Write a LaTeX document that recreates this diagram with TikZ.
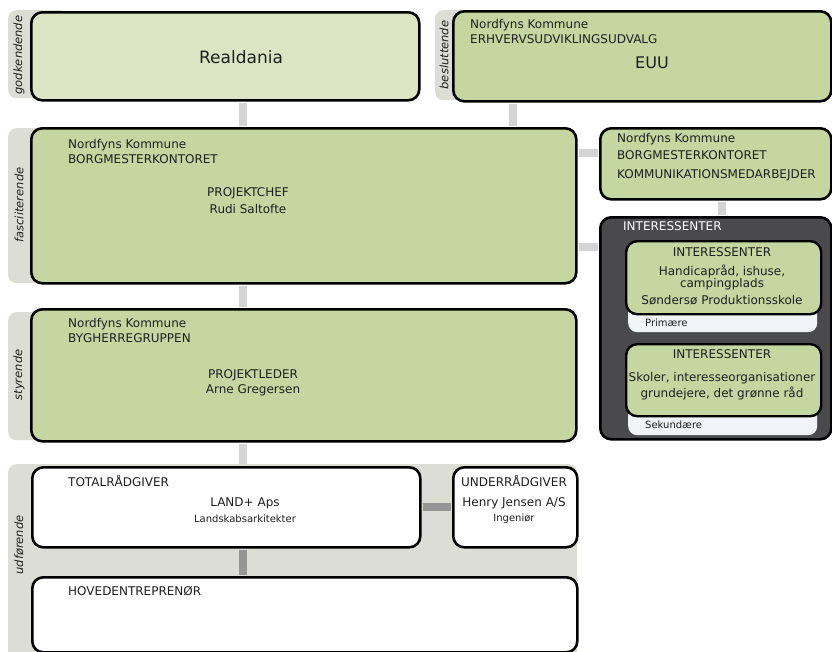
\documentclass[tikz,border=0pt]{standalone}
\usepackage{fontspec}
\setmainfont{DejaVu Sans}
\usetikzlibrary{positioning}
\usetikzlibrary{calc}
\definecolor{palegreen}{RGB}{220,229,195}
\definecolor{leafgreen}{RGB}{197,214,160}
\definecolor{tabgrey}{RGB}{220,222,214}
\definecolor{linkgrey}{RGB}{212,212,212}
\definecolor{darklink}{RGB}{150,150,150}
\definecolor{slate}{RGB}{74,74,76}
\definecolor{paper}{RGB}{240,243,247}

\begin{document}
\begin{tikzpicture}[x=1pt,y=-1pt,inner sep=0pt,
			font=\fontsize{12}{14}\selectfont,text=black!88]
			\tikzstyle{box}=[draw=black,line width=2.6pt,rounded corners=11pt,anchor=north west]
			\tikzstyle{tab}=[fill=tabgrey,rounded corners=8pt,anchor=north west]
			\tikzstyle{side}=[rotate=90,font=\itshape\fontsize{11.5}{13}\selectfont]
			\tikzstyle{txt}=[anchor=west]
			\tikzstyle{small}=[font=\fontsize{10}{12}\selectfont]
			\tikzstyle{link}=[draw=linkgrey,line width=8pt,shorten <=1pt,shorten >=1pt]
			\tikzstyle{inlink}=[link,draw=darklink]
			
			\useasboundingbox (0,0) rectangle (832,651);
			
			\coordinate (spine)    at (243,0);
			\coordinate (euuspine) at (513,0);
			\coordinate (kspine)   at (722,0);
			\coordinate (tapA)     at (0,153);
			\coordinate (tapB)     at (0,247);
			
			% godkendende
			\node[tab,minimum width=60pt,minimum height=88pt]  (tab_g) at (8,10) {};
			\node[side]                                        (lab_g) at (19,55) {godkendende};
			\node[box,fill=palegreen,minimum width=388pt,minimum height=88pt] (real) at (30,11) {};
			\node[font=\fontsize{17}{20}\selectfont]           (real_t) at (241,57) {Realdania};
			
			% besluttende
			\node[tab,minimum width=60pt,minimum height=90pt]  (tab_b) at (435,10) {};
			\node[side]                                        (lab_b) at (444,55) {besluttende};
			\node[box,fill=leafgreen,minimum width=378pt,minimum height=90pt] (euu) at (452,10) {};
			\node[txt]                                         (euu_a) at (470,25) {Nordfyns Kommune};
			\node[txt]                                         (euu_b) at (470,39) {ERHVERVSUDVIKLINGSUDVALG};
			\node[font=\fontsize{16}{19}\selectfont]           (euu_t) at (652,63) {EUU};
			
			% fasciiterende
			\node[tab,minimum width=60pt,minimum height=155pt] (tab_f) at (8,128) {};
			\node[side]                                        (lab_f) at (19,205) {fasciiterende};
			\node[box,fill=leafgreen,minimum width=545pt,minimum height=155pt] (fasc) at (30,127) {};
			\node[txt]                                         (fasc_a) at (68,145) {Nordfyns Kommune};
			\node[txt]                                         (fasc_b) at (68,159) {BORGMESTERKONTORET};
			\node                                              (fasc_c) at (248,193) {PROJEKTCHEF};
			\node                                              (fasc_d) at (248,209) {Rudi Saltofte};
			
			\node[box,fill=leafgreen,minimum width=231pt,minimum height=71pt] (komm) at (599,127) {};
			\node[txt]                                         (komm_a) at (617,139) {Nordfyns Kommune};
			\node[txt]                                         (komm_b) at (617,155) {BORGMESTERKONTORET};
			\node[txt]                                         (komm_c) at (617,175) {KOMMUNIKATIONSMEDARBEJDER};
			
			\node[box,fill=slate,minimum width=231pt,minimum height=222pt] (inter) at (599,216) {};
			\node[txt,text=white]                              (inter_t) at (623,226) {INTERESSENTER};
			
			\node[fill=paper,rounded corners=9pt,anchor=north west,minimum width=189pt,minimum height=36pt] (prim_bg) at (628,296) {};
			\node[box,line width=2.4pt,fill=leafgreen,minimum width=195pt,minimum height=73pt] (prim) at (625,240) {};
			\node                                              (prim_a) at (722,252) {INTERESSENTER};
			\node                                              (prim_b) at (722,271) {Handicapråd, ishuse,};
			\node                                              (prim_c) at (722,284) {campingplads};
			\node                                              (prim_d) at (722,300) {Søndersø Produktionsskole};
			\node[txt,small]                                   (prim_e) at (645,323) {Primære};
			
			\node[fill=paper,rounded corners=9pt,anchor=north west,minimum width=189pt,minimum height=35pt] (sek_bg) at (628,400) {};
			\node[box,line width=2.4pt,fill=leafgreen,minimum width=195pt,minimum height=72pt] (sek) at (625,343) {};
			\node                                              (sek_a) at (722,354) {INTERESSENTER};
			\node                                              (sek_b) at (722,378) {Skoler, interesseorganisationer};
			\node                                              (sek_c) at (722,393) {grundejere, det grønne råd};
			\node[txt,small]                                   (sek_d) at (645,425) {Sekundære};
			
			% styrende
			\node[tab,minimum width=60pt,minimum height=128pt] (tab_s) at (8,312) {};
			\node[side]                                        (lab_s) at (19,375) {styrende};
			\node[box,fill=leafgreen,minimum width=545pt,minimum height=132pt] (styr) at (30,308) {};
			\node[txt]                                         (styr_a) at (68,324) {Nordfyns Kommune};
			\node[txt]                                         (styr_b) at (68,338) {BYGHERREGRUPPEN};
			\node                                              (styr_c) at (253,375) {PROJEKTLEDER};
			\node                                              (styr_d) at (253,390) {Arne Gregersen};
			
			% udførende
			\node[tab,minimum width=569pt,minimum height=210pt] (tab_u) at (8,464) {};
			\node[side]                                        (lab_u) at (19,545) {udførende};
			\node[box,fill=white,minimum width=388pt,minimum height=80pt] (total) at (31,466) {};
			\node[txt]                                         (total_a) at (68,481) {TOTALRÅDGIVER};
			\node                                              (total_b) at (245,503) {LAND+ Aps};
			\node[small]                                       (total_c) at (245,519) {Landskabsarkitekter};
			\node[box,fill=white,minimum width=124pt,minimum height=80pt] (under) at (452,466) {};
			\node                                              (under_a) at (514,481) {UNDERRÅDGIVER};
			\node                                              (under_b) at (514,503) {Henry Jensen A/S};
			\node[small]                                       (under_c) at (514,519) {Ingeniør};
			\node[box,fill=white,minimum width=545pt,minimum height=75pt] (hoved) at (31,576) {};
			\node[txt]                                         (hoved_a) at (68,591) {HOVEDENTREPRENØR};
			
			\draw[link]   (real.south -| spine)    -- (fasc.north -| spine);
			\draw[link]   (euu.south -| euuspine)  -- (fasc.north -| euuspine);
			\draw[link]   (fasc.east |- tapA)      -- (komm.west |- tapA);
			\draw[link]   (fasc.east |- tapB)      -- (inter.west |- tapB);
			\draw[link]   (komm.south -| kspine)   -- (inter.north -| kspine);
			\draw[link]   (fasc.south -| spine)    -- (styr.north -| spine);
			\draw[link]   (styr.south -| spine)    -- (total.north -| spine);
			\draw[inlink] (total.east)             -- (under.west);
			\draw[inlink] (total.south -| spine)   -- (hoved.north -| spine);
\end{tikzpicture}
\end{document}
